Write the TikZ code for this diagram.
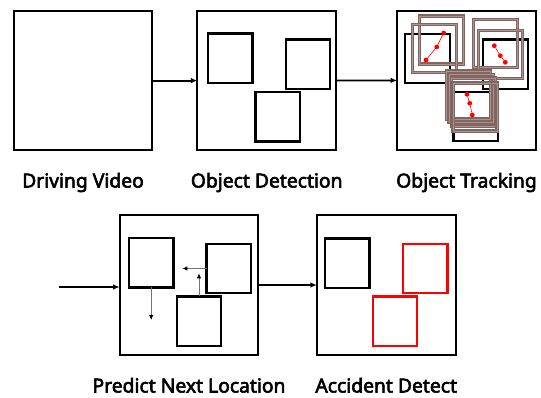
\documentclass[tikz,border=0pt]{standalone}
\usepackage{fontspec}
\setmainfont{Noto Sans}
\newfontfamily\lblfont{Noto Sans}[FakeBold=3]
\usetikzlibrary{arrows.meta}
\definecolor{trkbrown}{RGB}{130,100,97}
\definecolor{trklight}{RGB}{170,148,145}
\definecolor{redbox}{RGB}{255,0,0}
\begin{document}
\begin{tikzpicture}[x=1pt,y=-1pt,
  panel/.style={draw=black, line width=2pt, minimum width=138.6pt, minimum height=139.6pt, inner sep=0pt, outer sep=0pt},
  bx/.style={draw=black, line width=2.3pt, minimum width=44.5pt, minimum height=49.3pt, inner sep=0pt, outer sep=0pt},
  rbx/.style={bx, draw=redbox},
  trk/.style={draw=trkbrown, double=trklight, double distance=0.7pt, line width=1.3pt, minimum width=44pt, minimum height=48pt, inner sep=0pt, outer sep=0pt},
  dot/.style={circle, fill=redbox, minimum size=4.8pt, inner sep=0pt, outer sep=0pt},
  redline/.style={draw=redbox, line width=0.6pt},
  flow/.style={draw=black, line width=1.8pt, -{Latex[length=6.5pt,width=5.5pt]}},
  small/.style={draw=black!55, line width=0.9pt, -{Latex[length=5pt,width=4.5pt,color=black]}},
  lbl/.style={anchor=base, inner sep=0pt, font=\fontsize{19.3}{23}\lblfont}
]
\useasboundingbox (0,0) rectangle (541,397);

% top row panels
\node[panel] (p1) at (83,80.6) {};
\node[panel] (p2) at (266.7,80.6) {};
\node[panel] (p3) at (466.5,80.3) {};

% detection boxes
\node[bx] (d1) at (230.3,58.2) {};
\node[bx] (d2) at (308,64) {};
\node[bx] (d3) at (277.8,116.7) {};

% tracking boxes
\node[bx] (t1) at (427.5,58.3) {};
\node[bx] (t2) at (505.5,64) {};
\node[bx] (t3) at (475.7,116.5) {};

% tracking frames
\node[trk] (f1) at (441.7,40) {};
\node[trk] (f2) at (434.7,48.4) {};
\node[trk] (f3) at (495.8,43.8) {};
\node[trk] (f4) at (500.5,54.5) {};
\node[trk] (f5) at (468.5,95) {};
\node[trk] (f6) at (471,98.5) {};
\node[trk] (f7) at (473.8,102) {};
\node[trk] (f8) at (475,107) {};

% trajectories
\node[dot] (a1) at (443.7,33) {};
\node[dot] (a2) at (436.7,47) {};
\node[dot] (a3) at (426,60) {};
\draw[redline] (a1) -- (a2) -- (a3);
\node[dot] (b1) at (494.3,45.7) {};
\node[dot] (b2) at (500.3,55.7) {};
\node[dot] (b3) at (505.3,62.3) {};
\draw[redline] (b1) -- (b2) -- (b3);
\node[dot] (c1) at (467,94.3) {};
\node[dot] (c2) at (469.7,103.3) {};
\node[dot] (c3) at (472.3,115) {};
\draw[redline] (c1) -- (c2) -- (c3);

% top arrows
\draw[flow] (p1) -- (p2);
\draw[flow] (p2) -- (p3);

% top labels
\node[lbl] (l1) at (83,187.5) {Driving Video};
\node[lbl] (l2) at (266.7,187.5) {Object Detection};
\node[lbl] (l3) at (466.5,187.5) {Object Tracking};

% bottom row panels
\node[panel] (p4) at (189,285) {};
\node[panel] (p5) at (386.2,285) {};

% prediction boxes
\node[bx] (e1) at (151.2,262.8) {};
\node[bx] (e2) at (228.8,268.5) {};
\node[bx] (e3) at (199,321) {};
\coordinate (m1) at (151.2,320);
\coordinate (m2) at (182.3,268.5);
\coordinate (m3) at (199,273.3);
\draw[small] (e1.south) -- (m1);
\draw[small] (e2.west) -- (m2);
\draw[small] (e3.north) -- (m3);

% accident boxes
\node[bx] (g1) at (347.3,263) {};
\node[rbx] (g2) at (425.2,268.3) {};
\node[rbx] (g3) at (395,321) {};

% bottom arrows
\coordinate (start) at (59.3,287);
\draw[flow] (start) -- (start -| p4.west);
\draw[flow] (p4) -- (p5);

% bottom labels
\node[lbl] (l4) at (189,392.5) {Predict Next Location};
\node[lbl] (l5) at (386.2,392.5) {Accident Detect};
\end{tikzpicture}
\end{document}
